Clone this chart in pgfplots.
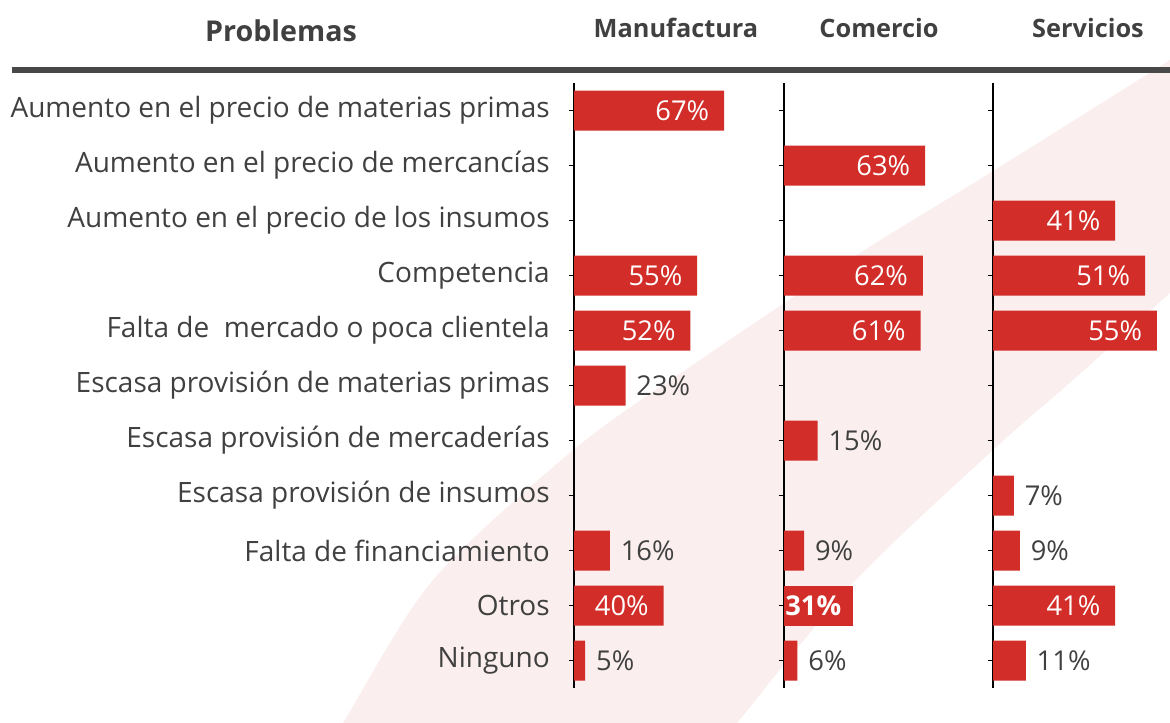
\documentclass[border=0pt]{standalone}
\usepackage{fontspec}
\setmainfont{Open Sans}
\usepackage{pgfplots}
\pgfplotsset{compat=1.18}
\usepackage{pgfplotstable}

\definecolor{barred}{RGB}{210,45,40}
\definecolor{txt}{RGB}{64,64,64}
\definecolor{pinkbg}{RGB}{250,238,238}
\definecolor{hline}{RGB}{72,72,72}

% Manufactura
\pgfplotstableread{
y x
0 67
3 55
4 52
9 40
}\manin
\pgfplotstableread{
y x
5 23
8 16
10 5
}\manout
% Comercio
\pgfplotstableread{
y x
1 63
3 62
4 61
}\comin
\pgfplotstableread{
y x
9 31
}\combold
\pgfplotstableread{
y x
6 15
8 9
10 6
}\comout
% Servicios
\pgfplotstableread{
y x
2 41
3 51
4 55
9 41
}\serin
\pgfplotstableread{
y x
7 7
8 9
10 11
}\serout

\newcommand{\lblfont}{\fontsize{21}{24}\selectfont}
\newcommand{\valfont}{\fontsize{20.5}{24}\selectfont}

\pgfplotsset{
  panel/.style={
    scale only axis, height=453.75pt,
    ymin=-0.5, ymax=10.5, y dir=reverse, xmin=0,
    axis x line=none, axis y line*=left,
    axis line style={black, line width=1.5pt, -},
    ytick={0,...,10}, yticklabels={},
    tick style={black, line width=1pt}, major tick length=4pt, tick align=inside,
    clip=false, xbar, bar width=30pt, bar shift=0pt,
    /pgf/number format/assume math mode=true,
  },
  inlab/.style={fill=barred, draw=none,
    point meta=x,
    nodes near coords={\pgfmathprintnumber{\pgfplotspointmeta}\%},
    every node near coord/.append style={anchor=east, text=white, inner sep=0pt, xshift=-11pt, font=\valfont}},
  boldlab/.style={fill=barred, draw=none,
    point meta=x,
    nodes near coords={\pgfmathprintnumber{\pgfplotspointmeta}\%},
    every node near coord/.append style={anchor=east, text=white, inner sep=0pt, xshift=-9pt, font=\valfont\bfseries}},
  outlab/.style={fill=barred, draw=none,
    point meta=x,
    nodes near coords={\pgfmathprintnumber{\pgfplotspointmeta}\%},
    every node near coord/.append style={anchor=west, text=txt, inner sep=0pt, xshift=8pt, font=\valfont}},
}

\begin{document}
\begin{tikzpicture}[x=0.75pt, y=-0.75pt]
\path[use as bounding box] (0,0) rectangle (1170,723);
\begin{scope}
\clip (0,0) rectangle (1170,723);
\fill[pinkbg] plot[smooth] coordinates {(301,790) (343,723) (433,580) (577,447) (700,360) (860,253) (990,173) (1170,60) (1230,22)}
  -- (1260,22) -- (1260,240)
  -- plot[smooth] coordinates {(1230,240) (1170,293) (1073,380) (993,450) (853,583) (737,723) (690,780)} -- cycle;
\end{scope}

\draw[hline, line width=4.5pt] (12,70.5) -- (1170,70.5);
\node[font=\fontsize{21.5}{24}\selectfont\bfseries, text=txt] at (281,31) {Problemas};
\node[font=\fontsize{19}{22}\selectfont\bfseries, text=txt] at (676,28) {Manufactura};
\node[font=\fontsize{19}{22}\selectfont\bfseries, text=txt] at (879,28) {Comercio};
\node[font=\fontsize{19}{22}\selectfont\bfseries, text=txt] at (1088,28) {Servicios};

\begin{axis}[panel, at={(430.5pt,-516pt)}, anchor=south west, width=134.4pt, xmax=80,
  yticklabels={Aumento en el precio de materias primas, Aumento en el precio de mercancías, Aumento en el precio de los insumos, Competencia, Falta de\ \ mercado o poca clientela, Escasa provisión de materias primas, Escasa provisión de mercaderías, Escasa provisión de insumos, Falta de financiamiento, Otros, Ninguno},
  yticklabel style={font=\lblfont, text=txt, anchor=east, inner sep=0pt, xshift=-14pt}]
\addplot[inlab] table[x=x, y=y] {\manin};
\addplot[outlab] table[x=x, y=y] {\manout};
\end{axis}

\begin{axis}[panel, at={(588pt,-516pt)}, anchor=south west, width=134.4pt, xmax=80]
\addplot[inlab] table[x=x, y=y] {\comin};
\addplot[boldlab] table[x=x, y=y] {\combold};
\addplot[outlab] table[x=x, y=y] {\comout};
\end{axis}

\begin{axis}[panel, at={(744.75pt,-516pt)}, anchor=south west, width=131.9pt, xmax=59]
\addplot[inlab] table[x=x, y=y] {\serin};
\addplot[outlab] table[x=x, y=y] {\serout};
\end{axis}
\end{tikzpicture}
\end{document}
